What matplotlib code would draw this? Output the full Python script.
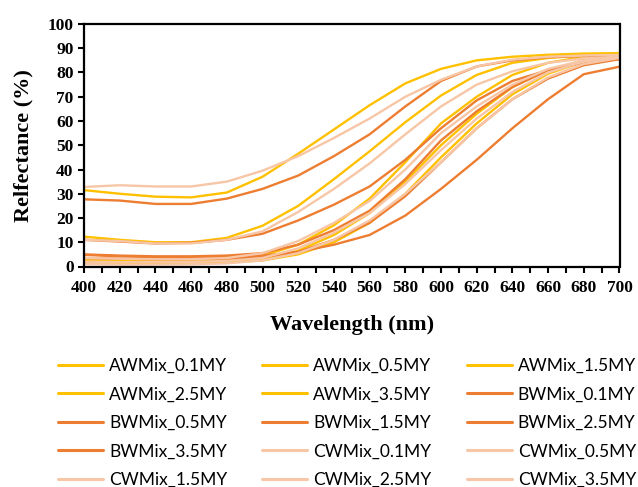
import matplotlib
matplotlib.use("Agg")
import matplotlib.pyplot as plt
from matplotlib.ticker import MultipleLocator

wavelength = [400, 420, 440, 460, 480, 500, 520, 540, 560, 580, 600, 620, 640, 660, 680, 700]

AWMix_0_1MY = [31.5, 30.0, 28.8, 28.5, 30.5, 37.0, 46.5, 56.5, 66.5, 75.5, 81.5, 85.0, 86.5, 87.3, 87.8, 88.0]
AWMix_0_5MY = [12.3, 11.0, 10.0, 10.0, 11.8, 16.8, 25.0, 36.0, 47.5, 59.5, 70.5, 79.0, 84.0, 86.0, 87.0, 87.6]
AWMix_1_5MY = [2.8, 2.5, 2.3, 2.3, 2.8, 4.5, 9.0, 17.0, 28.0, 43.0, 59.0, 70.0, 79.0, 84.0, 86.5, 87.5]
AWMix_2_5MY = [2.0, 1.8, 1.6, 1.7, 2.0, 3.0, 6.5, 13.0, 22.0, 35.0, 50.0, 63.0, 74.0, 81.0, 85.0, 87.0]
AWMix_3_5MY = [1.5, 1.3, 1.2, 1.3, 1.7, 2.5, 5.0, 10.0, 18.0, 30.0, 45.0, 59.0, 71.0, 79.5, 84.5, 86.5]
BWMix_0_1MY = [27.7, 27.2, 25.8, 25.8, 28.0, 32.0, 37.5, 45.5, 54.5, 66.0, 76.5, 82.5, 85.0, 86.3, 86.8, 87.0]
BWMix_0_5MY = [11.0, 10.3, 9.5, 9.8, 11.0, 13.5, 19.0, 25.5, 33.0, 44.0, 57.0, 68.5, 76.5, 81.0, 84.0, 85.5]
BWMix_1_5MY = [5.0, 4.5, 4.2, 4.2, 4.5, 5.5, 9.0, 15.0, 23.0, 36.0, 52.0, 64.0, 74.0, 81.0, 84.5, 86.0]
BWMix_2_5MY = [3.5, 3.2, 3.0, 3.0, 3.2, 3.8, 6.0, 11.0, 18.0, 29.0, 43.0, 57.0, 69.0, 77.5, 83.0, 85.5]
BWMix_3_5MY = [4.8, 4.2, 3.8, 3.8, 4.0, 4.5, 6.0, 9.0, 13.0, 21.0, 32.0, 44.0, 57.0, 69.0, 79.3, 82.4]
CWMix_0_1MY = [32.8, 33.5, 33.0, 33.0, 35.0, 39.5, 45.5, 53.0, 61.0, 70.0, 77.0, 82.5, 85.3, 86.5, 87.0, 87.3]
CWMix_0_5MY = [11.0, 10.5, 9.5, 9.5, 11.0, 14.5, 22.5, 32.0, 42.5, 54.5, 66.0, 75.0, 80.5, 84.0, 85.8, 86.5]
CWMix_1_5MY = [3.5, 3.2, 3.0, 3.0, 3.5, 5.5, 10.5, 18.0, 27.0, 40.0, 55.0, 66.0, 75.0, 81.5, 85.0, 86.5]
CWMix_2_5MY = [2.0, 1.8, 1.8, 1.9, 2.3, 3.5, 7.5, 14.0, 22.0, 34.0, 48.0, 61.0, 72.0, 80.0, 84.5, 86.5]
CWMix_3_5MY = [1.0, 0.8, 0.8, 0.9, 1.3, 2.5, 5.5, 11.0, 19.0, 30.0, 43.0, 57.0, 69.0, 78.0, 83.5, 86.0]

series_names = ["AWMix_0.1MY", "AWMix_0.5MY", "AWMix_1.5MY", "AWMix_2.5MY", "AWMix_3.5MY",
                "BWMix_0.1MY", "BWMix_0.5MY", "BWMix_1.5MY", "BWMix_2.5MY", "BWMix_3.5MY",
                "CWMix_0.1MY", "CWMix_0.5MY", "CWMix_1.5MY", "CWMix_2.5MY", "CWMix_3.5MY"]
series_values = [AWMix_0_1MY, AWMix_0_5MY, AWMix_1_5MY, AWMix_2_5MY, AWMix_3_5MY,
                 BWMix_0_1MY, BWMix_0_5MY, BWMix_1_5MY, BWMix_2_5MY, BWMix_3_5MY,
                 CWMix_0_1MY, CWMix_0_5MY, CWMix_1_5MY, CWMix_2_5MY, CWMix_3_5MY]

color_A = "#FFC000"
color_B = "#ED7D31"
color_C = "#F7C6A6"
colors = [color_A] * 5 + [color_B] * 5 + [color_C] * 5

fig = plt.figure(figsize=(6.38, 4.87), dpi=100)
ax = fig.add_axes([84 / 638, 1 - 266.5 / 487, (619.5 - 84) / 638, (266.5 - 24) / 487])

handles = []
for name, vals, c in zip(series_names, series_values, colors):
    h, = ax.plot(wavelength, vals, color=c, lw=1.7, label=name, solid_capstyle="round")
    handles.append(h)

ax.set_xlim(400, 700)
ax.set_ylim(0, 100)
ax.xaxis.set_major_locator(MultipleLocator(20))
ax.xaxis.set_minor_locator(MultipleLocator(10))
ax.yaxis.set_major_locator(MultipleLocator(10))

serif = "Liberation Serif"
for lab in ax.get_xticklabels() + ax.get_yticklabels():
    lab.set_fontfamily(serif)
    lab.set_fontweight("bold")
    lab.set_fontsize(12.5)
ax.tick_params(axis="both", which="both", direction="out", length=4.5, width=1.5, color="black")
ax.tick_params(axis="x", which="major", pad=5)
ax.tick_params(axis="y", which="major", pad=3)
for s in ax.spines.values():
    s.set_linewidth(1.6)
    s.set_color("black")

ax.set_xlabel("Wavelength (nm)", fontfamily=serif, fontweight="bold", fontsize=16, labelpad=14)
ax.set_ylabel("Relfectance (%)", fontfamily=serif, fontweight="bold", fontsize=16, labelpad=10)

order = [0, 3, 6, 9, 12, 1, 4, 7, 10, 13, 2, 5, 8, 11, 14]
leg = fig.legend([handles[i] for i in order], [series_names[i] for i in order],
                 ncol=3, loc="upper left", bbox_to_anchor=(58 / 638, 1 - 358 / 487),
                 frameon=False, prop={"family": "Lato", "size": 12.5},
                 handlelength=2.6, handletextpad=0.35, columnspacing=2.0,
                 labelspacing=0.72, borderpad=0.0, borderaxespad=0.0)
for lh in leg.get_lines():
    lh.set_linewidth(2.2)

fig.savefig("out.png", dpi=100)
